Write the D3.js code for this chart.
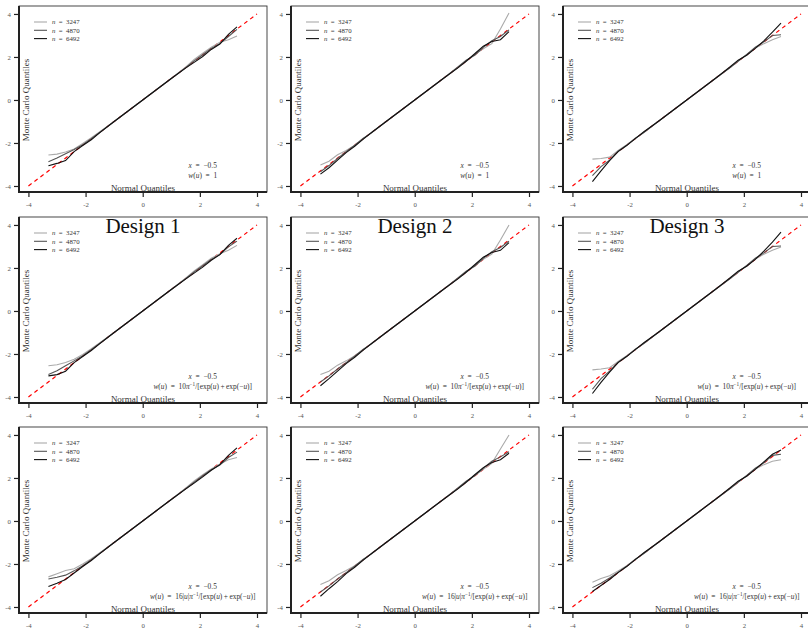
<!DOCTYPE html>
<html>
<head>
<meta charset="utf-8">
<script src="https://cdn.jsdelivr.net/npm/d3@7"></script>
<style>
  body { margin: 0; background: #fff; }
  svg { display: block; font-family: 'Liberation Serif', 'DejaVu Serif', serif; }
</style>
</head>
<body>
<svg id="qq" width="808" height="628"></svg>
<script>
// normal quantiles (x positions shared by every curve)
const normalQ = [-3.3, -3.0, -2.7, -2.4, -2.1, -1.8, -1.5, -1.0, -0.5, 0, 0.5, 1.0, 1.5, 1.8, 2.1, 2.4, 2.7, 3.0, 3.3];

const sampleSizes = [3247, 4870, 6492];
const designs = ['Design 1', 'Design 2', 'Design 3'];
const tickValues = [-4, -2, 0, 2, 4];
const xValueLabel = '\u22120.5';

// Monte Carlo quantiles, one array per sample size (n = 3247, 4870, 6492)
// row 1: w(u) = 1
const d1_w1 = [
	[-2.56, -2.52, -2.42, -2.28, -2.02, -1.76, -1.48, -1.0, -0.5, 0, 0.5, 1.0, 1.52, 1.88, 2.17, 2.45, 2.68, 2.80, 2.98],
	[-2.87, -2.70, -2.50, -2.30, -2.08, -1.80, -1.50, -1.0, -0.5, 0, 0.5, 1.0, 1.50, 1.82, 2.10, 2.40, 2.62, 2.95, 3.28],
	[-3.06, -2.95, -2.82, -2.40, -2.12, -1.85, -1.52, -1.0, -0.5, 0, 0.5, 1.0, 1.48, 1.75, 2.02, 2.35, 2.60, 3.05, 3.40],
];
const d2_w1 = [
	[-3.03, -2.85, -2.55, -2.35, -2.10, -1.80, -1.50, -1.0, -0.5, 0, 0.5, 1.0, 1.50, 1.80, 2.12, 2.38, 2.62, 3.30, 4.04],
	[-3.34, -3.05, -2.72, -2.40, -2.10, -1.78, -1.52, -1.0, -0.5, 0, 0.5, 1.0, 1.52, 1.85, 2.08, 2.45, 2.75, 2.95, 3.26],
	[-3.45, -3.15, -2.80, -2.45, -2.15, -1.82, -1.50, -1.0, -0.5, 0, 0.5, 1.0, 1.48, 1.80, 2.15, 2.50, 2.72, 2.80, 3.18],
];
const d3_w1 = [
	[-2.75, -2.72, -2.66, -2.35, -2.08, -1.80, -1.50, -1.0, -0.5, 0, 0.5, 1.0, 1.50, 1.82, 2.10, 2.42, 2.62, 2.80, 2.95],
	[-3.52, -3.10, -2.80, -2.38, -2.10, -1.78, -1.52, -1.0, -0.5, 0, 0.5, 1.0, 1.48, 1.80, 2.12, 2.45, 2.70, 3.00, 3.03],
	[-3.80, -3.30, -2.82, -2.40, -2.12, -1.80, -1.48, -1.0, -0.5, 0, 0.5, 1.0, 1.52, 1.85, 2.08, 2.40, 2.75, 3.15, 3.57],
];
// row 2: w(u) = 10/pi / [exp(u) + exp(-u)]
const d1_w2 = [
	[-2.55, -2.50, -2.40, -2.25, -2.02, -1.76, -1.48, -1.0, -0.5, 0, 0.5, 1.0, 1.52, 1.86, 2.15, 2.45, 2.66, 2.82, 3.05],
	[-2.95, -2.78, -2.55, -2.32, -2.08, -1.80, -1.50, -1.0, -0.5, 0, 0.5, 1.0, 1.50, 1.82, 2.10, 2.40, 2.62, 2.98, 3.25],
	[-3.02, -2.96, -2.80, -2.40, -2.12, -1.84, -1.52, -1.0, -0.5, 0, 0.5, 1.0, 1.48, 1.76, 2.04, 2.36, 2.62, 3.05, 3.38],
];
const d2_w2 = [
	[-2.95, -2.80, -2.52, -2.32, -2.08, -1.80, -1.50, -1.0, -0.5, 0, 0.5, 1.0, 1.50, 1.80, 2.12, 2.40, 2.65, 3.30, 4.00],
	[-3.30, -3.02, -2.70, -2.40, -2.10, -1.78, -1.52, -1.0, -0.5, 0, 0.5, 1.0, 1.52, 1.85, 2.08, 2.45, 2.75, 2.95, 3.25],
	[-3.48, -3.15, -2.80, -2.45, -2.15, -1.82, -1.50, -1.0, -0.5, 0, 0.5, 1.0, 1.48, 1.80, 2.15, 2.50, 2.72, 2.82, 3.18],
];
const d3_w2 = [
	[-2.74, -2.70, -2.64, -2.35, -2.08, -1.80, -1.50, -1.0, -0.5, 0, 0.5, 1.0, 1.50, 1.82, 2.10, 2.42, 2.64, 2.82, 2.98],
	[-3.64, -3.15, -2.80, -2.38, -2.10, -1.78, -1.52, -1.0, -0.5, 0, 0.5, 1.0, 1.48, 1.80, 2.12, 2.45, 2.70, 3.00, 3.02],
	[-3.84, -3.32, -2.84, -2.40, -2.12, -1.80, -1.48, -1.0, -0.5, 0, 0.5, 1.0, 1.52, 1.85, 2.08, 2.40, 2.78, 3.20, 3.67],
];
// row 3: w(u) = 16|u|/pi / [exp(u) + exp(-u)]
const d1_w3 = [
	[-2.60, -2.45, -2.30, -2.22, -2.00, -1.76, -1.48, -1.0, -0.5, 0, 0.5, 1.0, 1.52, 1.86, 2.15, 2.42, 2.65, 2.85, 2.95],
	[-2.70, -2.62, -2.52, -2.32, -2.08, -1.80, -1.50, -1.0, -0.5, 0, 0.5, 1.0, 1.50, 1.80, 2.10, 2.38, 2.60, 2.95, 3.20],
	[-3.05, -2.90, -2.72, -2.42, -2.12, -1.84, -1.52, -1.0, -0.5, 0, 0.5, 1.0, 1.48, 1.76, 2.05, 2.36, 2.62, 3.05, 3.40],
];
const d2_w3 = [
	[-2.95, -2.78, -2.50, -2.30, -2.08, -1.80, -1.50, -1.0, -0.5, 0, 0.5, 1.0, 1.50, 1.80, 2.12, 2.40, 2.68, 3.35, 4.00],
	[-3.30, -3.02, -2.70, -2.40, -2.10, -1.78, -1.52, -1.0, -0.5, 0, 0.5, 1.0, 1.52, 1.85, 2.10, 2.45, 2.78, 2.98, 3.22],
	[-3.50, -3.15, -2.82, -2.45, -2.15, -1.82, -1.50, -1.0, -0.5, 0, 0.5, 1.0, 1.48, 1.80, 2.15, 2.48, 2.72, 2.85, 3.15],
];
const d3_w3 = [
	[-2.85, -2.68, -2.55, -2.32, -2.08, -1.80, -1.50, -1.0, -0.5, 0, 0.5, 1.0, 1.50, 1.82, 2.10, 2.42, 2.62, 2.78, 2.85],
	[-3.10, -2.90, -2.65, -2.38, -2.10, -1.78, -1.52, -1.0, -0.5, 0, 0.5, 1.0, 1.48, 1.80, 2.12, 2.45, 2.70, 3.05, 3.10],
	[-3.28, -3.00, -2.72, -2.40, -2.12, -1.80, -1.48, -1.0, -0.5, 0, 0.5, 1.0, 1.52, 1.85, 2.08, 2.40, 2.75, 3.10, 3.30],
];

const panels = [
	[d1_w1, d2_w1, d3_w1],
	[d1_w2, d2_w2, d3_w2],
	[d1_w3, d2_w3, d3_w3],
];

const seriesColors = ['#aaaaaa', '#555555', '#111111'];

const svg = d3.select('#qq');

// panel geometry
const colOffset = [0, 272, 544];
const rowOffset = [0, 211, 421];
const box = { left: 19, right: 267, top: 6, bottom: 192 };

const x = d3.scaleLinear().domain([-4.33, 4.35]).range([box.left, box.right]);
const y = d3.scaleLinear().domain([-4.28, 4.37]).range([box.bottom, box.top]);

const line = d3
	.line()
	.x((d) => x(d[0]))
	.y((d) => y(d[1]));

// math-ish text: italic letters, upright digits and brackets
function mathText(text, parts) {
	parts.forEach(([s, italic]) => {
		text.append('tspan').attr('font-style', italic ? 'italic' : 'normal').text(s);
	});
}

function weightLabel(text, row) {
	const head = [['w', 1], ['(', 0], ['u', 1], [')\u2002=\u2002', 0]];
	if (row === 0) {
		mathText(text, head.concat([['1', 0]]));
		return;
	}
	const coef = row === 1 ? [['10', 0]] : [['16|', 0], ['u', 1], ['|', 0]];
	mathText(text, head.concat(coef, [['\u03c0', 1]]));
	text.append('tspan').attr('font-style', 'normal').attr('dy', -2.8).attr('font-size', 5.2).text('\u22121');
	text.append('tspan').attr('font-style', 'normal').attr('dy', 2.8).text('/[exp(');
	mathText(text, [['u', 1], [')\u2009+\u2009exp(\u2212', 0], ['u', 1], [')]', 0]]);
}

panels.forEach((rowPanels, r) => {
	rowPanels.forEach((series, c) => {
		const g = svg
			.append('g')
			.attr('transform', `translate(${colOffset[c]},${rowOffset[r]})`);

		// thin frame
		g.append('rect')
			.attr('x', box.left)
			.attr('y', box.top)
			.attr('width', box.right - box.left)
			.attr('height', box.bottom - box.top)
			.attr('fill', 'none')
			.attr('stroke', '#333')
			.attr('stroke-width', 0.9);

		// reference line y = x
		g.append('line')
			.attr('x1', x(-4))
			.attr('y1', y(-4))
			.attr('x2', x(4))
			.attr('y2', y(4))
			.attr('stroke', '#ff0000')
			.attr('stroke-width', 1.2)
			.attr('stroke-dasharray', '4,3.5');

		// QQ curves
		series.forEach((vals, i) => {
			g.append('path')
				.datum(normalQ.map((q, k) => [q, vals[k]]))
				.attr('d', line)
				.attr('fill', 'none')
				.attr('stroke', seriesColors[i])
				.attr('stroke-width', 1.1);
		});

		// axes
		const yAxis = g
			.append('g')
			.attr('transform', `translate(${box.left},0)`)
			.call(d3.axisLeft(y).tickValues(tickValues).tickSize(5).tickPadding(3).tickFormat(d3.format('d')));
		const xAxis = g
			.append('g')
			.attr('transform', `translate(0,${box.bottom})`)
			.call(d3.axisBottom(x).tickValues(tickValues).tickSize(5).tickPadding(5).tickFormat(d3.format('d')));
		[xAxis, yAxis].forEach((ax) => {
			ax.select('.domain').remove();
			ax.selectAll('.tick line').attr('stroke', '#222').attr('stroke-width', 1.2);
			ax.selectAll('.tick text')
				.text((d) => String(d))
				.attr('font-family', "'Liberation Serif', serif")
				.attr('font-size', 6.8)
				.attr('fill', '#555');
		});

		// thick left and bottom spines
		g.append('line')
			.attr('x1', box.left).attr('x2', box.left)
			.attr('y1', box.top).attr('y2', box.bottom + 1)
			.attr('stroke', '#222').attr('stroke-width', 2);
		g.append('line')
			.attr('x1', box.left - 1).attr('x2', box.right)
			.attr('y1', box.bottom).attr('y2', box.bottom)
			.attr('stroke', '#222').attr('stroke-width', 2);

		// axis titles
		g.append('text')
			.attr('x', (box.left + box.right) / 2)
			.attr('y', box.bottom - 1)
			.attr('text-anchor', 'middle')
			.attr('font-size', 9)
			.attr('fill', '#333')
			.text('Normal Quantiles');
		g.append('text')
			.attr('transform', `translate(29,${y(0)}) rotate(-90)`)
			.attr('text-anchor', 'middle')
			.attr('font-size', 9)
			.attr('fill', '#333')
			.text('Monte Carlo Quantiles');

		// legend
		sampleSizes.forEach((n, i) => {
			const ly = 22 + i * 8.3;
			g.append('line')
				.attr('x1', 34).attr('x2', 47)
				.attr('y1', ly).attr('y2', ly)
				.attr('stroke', seriesColors[i])
				.attr('stroke-width', 1.1);
			const t = g.append('text')
				.attr('x', 52)
				.attr('y', ly + 2.2)
				.attr('font-size', 6.8)
				.attr('fill', '#333');
			mathText(t, [['n', 1], [`\u2002=\u2002${n}`, 0]]);
		});

		// annotation
		const ax = x(2.1);
		const t1 = g.append('text')
			.attr('x', ax)
			.attr('y', 167.5)
			.attr('text-anchor', 'middle')
			.attr('font-size', 7.4)
			.attr('fill', '#333');
		mathText(t1, [['x', 1], [`\u2002=\u2002${xValueLabel}`, 0]]);
		const t2 = g.append('text')
			.attr('x', ax)
			.attr('y', 177.5)
			.attr('text-anchor', 'middle')
			.attr('font-size', 7.4)
			.attr('fill', '#333');
		weightLabel(t2, r);
	});
});

// design titles
designs.forEach((name, c) => {
	svg.append('text')
		.attr('x', colOffset[c] + (box.left + box.right) / 2)
		.attr('y', 233)
		.attr('text-anchor', 'middle')
		.attr('font-size', 21)
		.attr('fill', '#111')
		.text(name);
});
</script>
</body>
</html>
